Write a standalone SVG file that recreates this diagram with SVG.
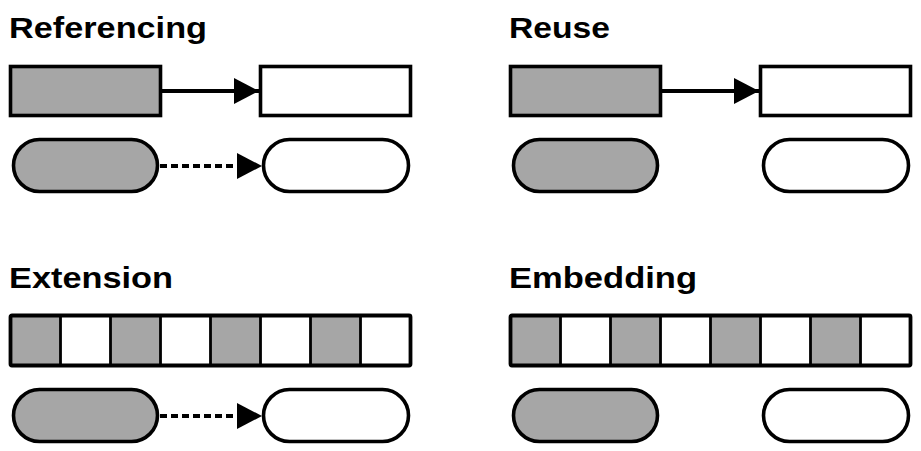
<svg xmlns="http://www.w3.org/2000/svg" width="921" height="451" viewBox="0 0 921 451">
<defs>
<style>
.title{font-family:"Liberation Sans",Arial,sans-serif;font-weight:bold;font-size:29.5px;fill:#000}
.g{fill:#a6a6a6;stroke:#000;stroke-width:3.6}
.w{fill:#fff;stroke:#000;stroke-width:3.6}
.cell{stroke:#000;stroke-width:2.8}
.frame{fill:none;stroke:#000;stroke-width:3.8}
.ln{stroke:#000;stroke-width:3.8;fill:none}
.dash{stroke:#000;stroke-width:3.8;fill:none;stroke-dasharray:7 4}
</style>
<marker id="ah" markerWidth="26" markerHeight="28" refX="25" refY="13" orient="auto" markerUnits="userSpaceOnUse">
<path d="M0,0 L25,13 L0,26 Z" fill="#000"/>
</marker>
<g id="segbar">
<rect x="10.5" y="0" width="50" height="50" fill="#a6a6a6"/>
<rect x="60.5" y="0" width="50" height="50" fill="#fff"/>
<rect x="110.5" y="0" width="50" height="50" fill="#a6a6a6"/>
<rect x="160.5" y="0" width="50" height="50" fill="#fff"/>
<rect x="210.5" y="0" width="50" height="50" fill="#a6a6a6"/>
<rect x="260.5" y="0" width="50" height="50" fill="#fff"/>
<rect x="310.5" y="0" width="50" height="50" fill="#a6a6a6"/>
<rect x="360.5" y="0" width="50" height="50" fill="#fff"/>
<path class="cell" d="M60.5,0V50M110.5,0V50M160.5,0V50M210.5,0V50M260.5,0V50M310.5,0V50M360.5,0V50"/>
<rect class="frame" x="10.5" y="0" width="400" height="50" rx="1.5"/>
</g>
</defs>

<g id="referencing">
<text class="title" x="9" y="38" textLength="198" lengthAdjust="spacingAndGlyphs">Referencing</text>
<g id="ref-src-rect"><rect class="g" x="10.5" y="66.5" width="150" height="49"/></g>
<g id="ref-dst-rect"><rect class="w" x="260.5" y="66.5" width="150" height="49"/></g>
<g id="ref-src-pill"><rect class="g" x="13.5" y="139.5" width="144" height="52" rx="26"/></g>
<g id="ref-dst-pill"><rect class="w" x="263.5" y="139.5" width="145" height="52" rx="26"/></g>
</g>

<g id="reuse">
<text class="title" x="509" y="38" textLength="101" lengthAdjust="spacingAndGlyphs">Reuse</text>
<g id="reuse-src-rect"><rect class="g" x="510.5" y="66.5" width="150" height="49"/></g>
<g id="reuse-dst-rect"><rect class="w" x="760.5" y="66.5" width="150" height="49"/></g>
<g id="reuse-src-pill"><rect class="g" x="513.5" y="139.5" width="144" height="52" rx="26"/></g>
<g id="reuse-dst-pill"><rect class="w" x="763.5" y="139.5" width="145" height="52" rx="26"/></g>
</g>

<g id="extension">
<text class="title" x="9" y="288" textLength="164" lengthAdjust="spacingAndGlyphs">Extension</text>
<g id="ext-bar"><use href="#segbar" x="0" y="315.5"/></g>
<g id="ext-src-pill"><rect class="g" x="13.5" y="389.5" width="144" height="52" rx="26"/></g>
<g id="ext-dst-pill"><rect class="w" x="263.5" y="389.5" width="145" height="52" rx="26"/></g>
</g>

<g id="embedding">
<text class="title" x="509" y="288" textLength="188" lengthAdjust="spacingAndGlyphs">Embedding</text>
<g id="emb-bar"><use href="#segbar" x="500" y="315.5"/></g>
<g id="emb-src-pill"><rect class="g" x="513.5" y="389.5" width="144" height="52" rx="26"/></g>
<g id="emb-dst-pill"><rect class="w" x="763.5" y="389.5" width="145" height="52" rx="26"/></g>
</g>

<g id="connectors">
<path class="ln" d="M162,91 H259" marker-end="url(#ah)"/>
<path class="ln" d="M662,91 H759" marker-end="url(#ah)"/>
<path class="dash" d="M160,166 H238"/>
<path d="M237,153 L262,166 L237,179 Z" fill="#000"/>
<path class="dash" d="M160,416 H238"/>
<path d="M237,403 L262,416 L237,429 Z" fill="#000"/>
</g>
</svg>
